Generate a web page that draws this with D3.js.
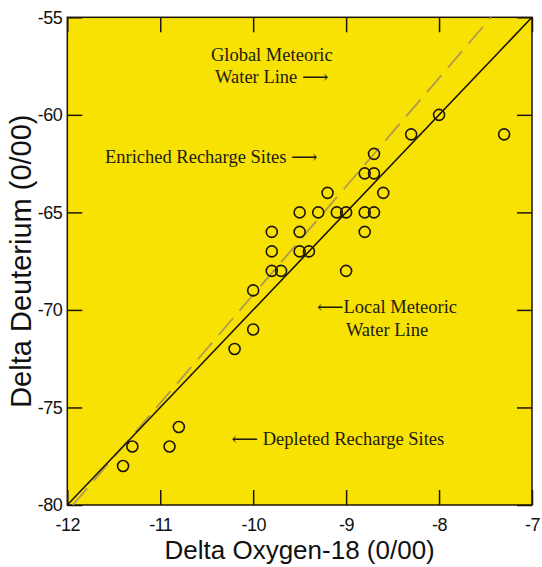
<!DOCTYPE html>
<html>
<head>
<meta charset="utf-8">
<script src="https://cdn.jsdelivr.net/npm/d3@7"></script>
<style>
  body { margin: 0; background: #fff; }
  svg { display: block; }
</style>
</head>
<body>
<svg id="chart"></svg>
<script>
// sample sites: delta oxygen-18 and delta deuterium (per mil)
const oxygen18 = [
  -11.4, -11.3, -10.9, -10.8, -10.2, -10.0, -10.0,
  -9.8, -9.8, -9.8, -9.7, -9.5, -9.5, -9.5, -9.4, -9.3, -9.2,
  -9.1, -9.0, -9.0, -8.8, -8.8, -8.8, -8.7, -8.7, -8.7,
  -8.6, -8.3, -8.0, -7.3,
];
const deuterium = [
  -78, -77, -77, -76, -72, -71, -69,
  -66, -67, -68, -68, -65, -66, -67, -67, -65, -64,
  -65, -65, -68, -66, -65, -63, -65, -63, -62,
  -64, -61, -60, -61,
];

// water lines, given by their two end points
const localLine = [[-12, -80], [-7, -55]];
const globalLine = [[-11.94, -80], [-7.44, -55]];

const xTicks = [-12, -11, -10, -9, -8, -7];
const yTicks = [-80, -75, -70, -65, -60, -55];

// text notes, placed in data units
const notes = [
  { lines: ["Global Meteoric", "Water Line \u27F6"], x: -9.8, y: -57.23, anchor: "middle" },
  { lines: ["Enriched Recharge Sites \u27F6"], x: -11.595, y: -62.46, anchor: "start" },
  { lines: ["\u27F5Local Meteoric", "Water Line"], x: -8.56, y: -70.18, anchor: "middle" },
  { lines: ["\u27F5 Depleted Recharge Sites"], x: -10.232, y: -76.93, anchor: "start" },
];

const width = 542;
const height = 567;
const margin = { top: 17.3, right: 10, bottom: 62, left: 67.3 };

const svg = d3.select("#chart")
  .attr("width", width)
  .attr("height", height)
  .attr("viewBox", [0, 0, width, height]);

const x = d3.scaleLinear()
  .domain([-12, -7])
  .range([margin.left, width - margin.right]);
const y = d3.scaleLinear()
  .domain([-80, -55])
  .range([height - margin.bottom, margin.top]);

// yellow plot area
svg.append("rect")
  .attr("x", x(-12))
  .attr("y", y(-55))
  .attr("width", x(-7) - x(-12))
  .attr("height", y(-80) - y(-55))
  .attr("fill", "#f8e204");

const ink = "#1e150a";
const tickFont = "'Liberation Sans', Arial, sans-serif";
const serif = "'Liberation Serif', 'Times New Roman', 'DejaVu Serif', serif";
const plain = (d) => String(d); // hyphen minus, no decimals

// the axes, ticks pointing inward
function styleAxis(g) {
  g.select(".domain").remove();
  g.selectAll(".tick line").attr("stroke", ink).attr("stroke-width", 1.5);
  g.selectAll(".tick text")
    .attr("fill", "#111")
    .attr("font-family", tickFont)
    .attr("font-size", 18)
    .attr("letter-spacing", -0.5);
}

svg.append("g")
  .attr("transform", `translate(0 ${y(-80)})`)
  .call(d3.axisBottom(x).tickValues(xTicks).tickFormat(plain).tickSize(-15).tickPadding(13).tickSizeOuter(0))
  .call(styleAxis);

svg.append("g")
  .attr("transform", `translate(0 ${y(-55)})`)
  .call(d3.axisTop(x).tickValues(xTicks).tickSize(-15).tickFormat("").tickSizeOuter(0))
  .call(styleAxis);

svg.append("g")
  .attr("transform", `translate(${x(-12)} 0)`)
  .call(d3.axisLeft(y).tickValues(yTicks).tickFormat(plain).tickSize(-15).tickPadding(5).tickSizeOuter(0))
  .call(styleAxis);

svg.append("g")
  .attr("transform", `translate(${x(-7)} 0)`)
  .call(d3.axisRight(y).tickValues(yTicks).tickSize(-15).tickFormat("").tickSizeOuter(0))
  .call(styleAxis);

// frame
svg.append("rect")
  .attr("x", x(-12))
  .attr("y", y(-55))
  .attr("width", x(-7) - x(-12))
  .attr("height", y(-80) - y(-55))
  .attr("fill", "none")
  .attr("stroke", ink)
  .attr("stroke-width", 1.5);

const line = d3.line()
  .x((d) => x(d[0]))
  .y((d) => y(d[1]));

// global meteoric water line (dashed)
svg.append("path")
  .attr("d", line(globalLine))
  .attr("fill", "none")
  .attr("stroke", "#b09a50")
  .attr("stroke-width", 1.8)
  .attr("stroke-dasharray", "22 10");

// local meteoric water line
svg.append("path")
  .attr("d", line(localLine))
  .attr("fill", "none")
  .attr("stroke", ink)
  .attr("stroke-width", 1.6);

// sites
svg.append("g")
  .selectAll("circle")
  .data(d3.zip(oxygen18, deuterium))
  .join("circle")
  .attr("cx", (d) => x(d[0]))
  .attr("cy", (d) => y(d[1]))
  .attr("r", 5.5)
  .attr("fill", "none")
  .attr("stroke", ink)
  .attr("stroke-width", 1.6);

// notes
svg.append("g")
  .selectAll("text")
  .data(notes)
  .join("text")
  .attr("x", (d) => x(d.x))
  .attr("y", (d) => y(d.y))
  .attr("text-anchor", (d) => d.anchor)
  .attr("font-family", serif)
  .attr("font-size", 18.5)
  .attr("fill", "#221a10")
  .selectAll("tspan")
  .data((d) => d.lines.map((t, i) => ({ t, i, x: d.x })))
  .join("tspan")
  .attr("x", (d) => x(d.x))
  .attr("dy", (d) => (d.i === 0 ? 0 : 22.5))
  .text((d) => d.t);

// axis titles
svg.append("text")
  .attr("x", (x(-12) + x(-7)) / 2)
  .attr("y", 559)
  .attr("text-anchor", "middle")
  .attr("font-family", tickFont)
  .attr("font-size", 26)
  .attr("fill", "#111")
  .text("Delta Oxygen-18 (0/00)");

svg.append("text")
  .attr("transform", `translate(31 ${(y(-80) + y(-55)) / 2}) rotate(-90)`)
  .attr("text-anchor", "middle")
  .attr("font-family", tickFont)
  .attr("font-size", 29)
  .attr("fill", "#111")
  .text("Delta Deuterium (0/00)");
</script>
</body>
</html>
